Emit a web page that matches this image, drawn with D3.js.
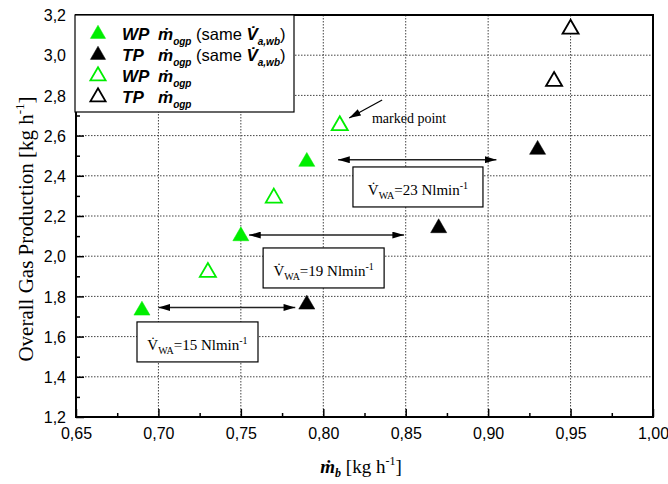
<!DOCTYPE html>
<head>
<meta charset="utf-8">
<script src="https://d3js.org/d3.v7.min.js"></script>
</head>
<style>
  body { margin: 0; background: #fff; }
  .tick text { font-family: "Liberation Sans", Arial, sans-serif; font-size: 16px; fill: #000; }
</style>
<body>
<svg id="chart" width="668" height="484"></svg>
<script>
// series values [mb, gas production]
const wpSame = [[0.69, 1.73], [0.75, 2.10], [0.79, 2.47]];
const tpSame = [[0.79, 1.76], [0.87, 2.14], [0.93, 2.53]];
const wpOpen = [[0.73, 1.92], [0.77, 2.29], [0.81, 2.65]];
const tpOpen = [[0.94, 2.87], [0.95, 3.13]];

// tick labels
const xTicks = [0.65, 0.70, 0.75, 0.80, 0.85, 0.90, 0.95, 1.00];
const yTicks = [1.2, 1.4, 1.6, 1.8, 2.0, 2.2, 2.4, 2.6, 2.8, 3.0, 3.2];

// annotations: air flow arrows (from mb, to mb, at gas prod) and labels
const flowArrows = [[0.70, 0.783, 1.745], [0.755, 0.849, 2.105], [0.809, 0.905, 2.48]];
const flowLabels = ["15", "19", "23"];
const flowBoxes = [[0.687, 1.673], [0.7635, 2.041], [0.818, 2.444]];

const svg = d3.select("#chart"),
    width = +svg.attr("width"),
    height = +svg.attr("height");

const pl = 76, pr = 653, pt = 15, pb = 417;

const x = d3.scaleLinear().domain([0.65, 1.00]).range([pl, pr]);
const y = d3.scaleLinear().domain([1.2, 3.2]).range([pb, pt]);

const comma = f => d => d3.format(f)(d).replace(".", ",");

// grid
svg.append("g").selectAll("line")
  .data(xTicks.slice(1, -1))
  .join("line")
    .attr("x1", d => x(d)).attr("x2", d => x(d))
    .attr("y1", pt).attr("y2", pb)
    .attr("stroke", "#444").attr("stroke-width", 1).attr("stroke-dasharray", "1.5,1.5");
svg.append("g").selectAll("line")
  .data(yTicks.slice(1, -1))
  .join("line")
    .attr("y1", d => y(d)).attr("y2", d => y(d))
    .attr("x1", pl).attr("x2", pr)
    .attr("stroke", "#444").attr("stroke-width", 1).attr("stroke-dasharray", "1.5,1.5");

// axes
const xAxis = svg.append("g").attr("transform", `translate(0,${pb})`)
  .call(d3.axisBottom(x).tickValues(xTicks).tickSize(-8).tickPadding(11).tickFormat(comma(".2f")));
const xMinor = svg.append("g").attr("transform", `translate(0,${pb})`)
  .call(d3.axisBottom(x).tickValues(d3.range(0.675, 1.0, 0.05)).tickSize(-4).tickFormat(""));
const yAxis = svg.append("g").attr("transform", `translate(${pl},0)`)
  .call(d3.axisLeft(y).tickValues(yTicks).tickSize(-8).tickPadding(10).tickFormat(comma(".1f")));
const yMinor = svg.append("g").attr("transform", `translate(${pl},0)`)
  .call(d3.axisLeft(y).tickValues(d3.range(1.3, 3.2, 0.2)).tickSize(-4).tickFormat(""));
[xAxis, xMinor, yAxis, yMinor].forEach(g => {
  g.select(".domain").remove();
  g.selectAll(".tick line").attr("stroke", "#000").attr("stroke-width", 1.5);
});
yAxis.selectAll(".tick text").attr("dy", "0.36em");

// frame
svg.append("rect")
  .attr("x", pl).attr("y", pt)
  .attr("width", pr - pl).attr("height", pb - pt)
  .attr("fill", "none").attr("stroke", "#000").attr("stroke-width", 2);

// arrowheads
const defs = svg.append("defs");
defs.append("marker")
    .attr("id", "head")
    .attr("viewBox", "0 0 10 6")
    .attr("refX", 10).attr("refY", 3)
    .attr("markerUnits", "userSpaceOnUse")
    .attr("markerWidth", 12).attr("markerHeight", 7)
    .attr("orient", "auto-start-reverse")
  .append("path").attr("d", "M0,0L10,3L0,6Z").attr("fill", "#000");

svg.append("g").selectAll("line")
  .data(flowArrows)
  .join("line")
    .attr("x1", d => x(d[0])).attr("x2", d => x(d[1]))
    .attr("y1", d => y(d[2])).attr("y2", d => y(d[2]))
    .attr("stroke", "#222").attr("stroke-width", 1.5)
    .attr("marker-start", "url(#head)").attr("marker-end", "url(#head)");

// flow label boxes
const boxW = [121, 121, 130];
const boxes = svg.append("g").selectAll("g")
  .data(flowBoxes)
  .join("g")
    .attr("transform", d => `translate(${x(d[0])},${y(d[1])})`);
boxes.append("rect")
  .attr("width", (d, i) => boxW[i]).attr("height", 40)
  .attr("fill", "#fff").attr("stroke", "#000").attr("stroke-width", 1.2);
const bt = boxes.append("text")
  .attr("x", (d, i) => boxW[i] / 2).attr("y", 28)
  .attr("text-anchor", "middle")
  .style("font-family", "'Liberation Serif', 'Times New Roman', serif")
  .style("font-size", "15px");
bt.append("tspan").text("V\u0307");
bt.append("tspan").attr("dy", 4).style("font-size", "10px").text("WA");
bt.append("tspan").attr("dy", -4).text((d, i) => "=" + flowLabels[i] + " Nlmin");
bt.append("tspan").attr("dy", -6).style("font-size", "10px").text("-1");

// marked point
svg.append("line")
  .attr("x1", x(0.8357)).attr("y1", y(2.777))
  .attr("x2", x(0.8157)).attr("y2", y(2.688))
  .attr("stroke", "#000").attr("stroke-width", 1.2)
  .attr("marker-end", "url(#head)");
svg.append("text")
  .attr("x", x(0.8295)).attr("y", y(2.663))
  .style("font-family", "'Liberation Serif', 'Times New Roman', serif")
  .style("font-size", "14px")
  .text("marked point");

// points
const tri = d3.symbol(d3.symbolTriangle, 112)();
const series = [
  {data: wpSame, fill: "#00ee00", stroke: "#00ee00"},
  {data: tpSame, fill: "#000", stroke: "#000"},
  {data: wpOpen, fill: "#fff", stroke: "#00ee00"},
  {data: tpOpen, fill: "#fff", stroke: "#000"}
];
series.forEach(s => {
  svg.append("g").selectAll("path")
    .data(s.data)
    .join("path")
      .attr("d", tri)
      .attr("transform", d => `translate(${x(d[0])},${y(d[1])})`)
      .attr("fill", s.fill)
      .attr("stroke", s.stroke)
      .attr("stroke-width", s.fill === "#fff" ? 1.8 : 0.5);
});

// legend
const legend = svg.append("g");
legend.append("rect")
  .attr("x", 75).attr("y", 15).attr("width", 219).attr("height", 97)
  .attr("fill", "#fff").attr("stroke", "#000").attr("stroke-width", 1.2);
const legendNames = ["WP", "TP", "WP", "TP"];
const legendSame = [true, true, false, false];
series.forEach((s, i) => {
  const by = 40 + i * 21;
  const smallTri = d3.symbol(d3.symbolTriangle, 100)();
  legend.append("path")
    .attr("d", smallTri)
    .attr("transform", `translate(98,${by - 6})`)
    .attr("fill", s.fill).attr("stroke", s.stroke)
    .attr("stroke-width", s.fill === "#fff" ? 1.8 : 0.5);
  const t = legend.append("text")
    .attr("y", by)
    .style("font-family", "'Liberation Sans', Arial, sans-serif")
    .style("font-size", "17px");
  t.append("tspan").attr("x", 122).style("font-weight", "bold").style("font-style", "italic").text(legendNames[i]);
  t.append("tspan").attr("x", 158).style("font-weight", "bold").style("font-style", "italic").text("\u1E41");
  t.append("tspan").attr("dy", 5).style("font-size", "10px").style("font-weight", "bold").style("font-style", "italic").text("ogp");
  if (legendSame[i]) {
    t.append("tspan").attr("x", 196).attr("dy", -5).style("font-size", "16.5px").text("(same ");
    t.append("tspan").style("font-weight", "bold").style("font-style", "italic").text("V\u0307");
    t.append("tspan").attr("dy", 5).style("font-size", "10px").style("font-weight", "bold").style("font-style", "italic").text("a,wb");
    t.append("tspan").attr("dy", -5).style("font-size", "16.5px").text(")");
  }
});

// axis titles
const yl = svg.append("text")
  .attr("transform", "translate(33,229) rotate(-90)")
  .attr("text-anchor", "middle")
  .style("font-family", "'Liberation Serif', 'Times New Roman', serif")
  .style("font-size", "21px");
yl.append("tspan").text("Overall Gas Production [kg h");
yl.append("tspan").attr("dy", -9).style("font-size", "13px").text("-1");
yl.append("tspan").attr("dy", 9).text("]");

const xl = svg.append("text")
  .attr("x", 361).attr("y", 473)
  .attr("text-anchor", "middle")
  .style("font-family", "'Liberation Serif', 'Times New Roman', serif")
  .style("font-size", "19px");
xl.append("tspan").style("font-weight", "bold").style("font-style", "italic").text("\u1E41");
xl.append("tspan").attr("dy", 4).style("font-size", "12px").style("font-weight", "bold").style("font-style", "italic").text("b");
xl.append("tspan").attr("dy", -4).text(" [kg h");
xl.append("tspan").attr("dy", -8).style("font-size", "12px").text("-1");
xl.append("tspan").attr("dy", 8).text("]");
</script>
</body>
